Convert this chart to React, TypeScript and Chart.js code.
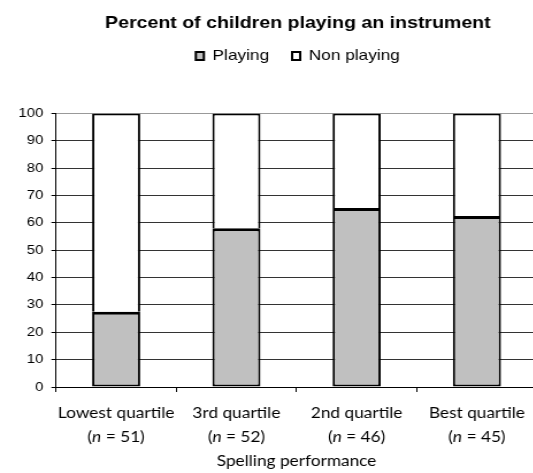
import React, { useEffect, useRef } from 'react';
import { Chart, registerables } from 'chart.js';

Chart.register(...registerables);

const categories = ['Lowest quartile', '3rd quartile', '2nd quartile', 'Best quartile'];
const sampleSizes = [51, 52, 46, 45];
const playing = [27.5, 58, 65.4, 62.5];
const nonPlaying = [72.5, 42, 34.6, 37.5];
const seriesNames = ['Playing', 'Non playing'];
const titleText = 'Percent of children playing an instrument';
const xAxisTitle = 'Spelling performance';

const STRETCH = 1.15;
const CANVAS_W = 518;
const CANVAS_H = 473;
const LABEL_FONT = 'Lato';
const ARIAL = "'Liberation Sans', Arial, sans-serif";

const xLabelPlugin = {
  id: 'xLabels',
  afterDraw(chart: any) {
    const ctx = chart.ctx as CanvasRenderingContext2D;
    const xs = chart.scales.x;
    const size = 15;
    const normal = `${size}px ${LABEL_FONT}`;
    const italic = `italic ${size}px ${LABEL_FONT}`;
    ctx.save();
    ctx.fillStyle = '#000';
    ctx.textBaseline = 'middle';
    categories.forEach((cat, i) => {
      const cx = xs.getPixelForValue(i);
      ctx.font = normal;
      ctx.textAlign = 'center';
      ctx.fillText(cat, cx, xs.top + 26);
      const parts = [
        { t: '(', f: normal },
        { t: 'n', f: italic },
        { t: ` = ${sampleSizes[i]})`, f: normal },
      ];
      let total = 0;
      parts.forEach((p) => {
        ctx.font = p.f;
        total += ctx.measureText(p.t).width;
      });
      let x = cx - total / 2;
      ctx.textAlign = 'left';
      parts.forEach((p) => {
        ctx.font = p.f;
        ctx.fillText(p.t, x, xs.top + 50);
        x += ctx.measureText(p.t).width;
      });
    });
    ctx.restore();
  },
};

export default function App() {
  const ref = useRef<HTMLCanvasElement>(null);

  useEffect(() => {
    if (!ref.current) return;
    const chart = new Chart(ref.current, {
      type: 'bar',
      data: {
        labels: categories,
        datasets: [
          {
            label: seriesNames[0],
            data: playing,
            backgroundColor: '#c0c0c0',
            borderColor: '#000',
            borderWidth: { top: 3, left: 2, right: 2, bottom: 2 },
            borderSkipped: false,
            barPercentage: 0.4,
            categoryPercentage: 1,
          },
          {
            label: seriesNames[1],
            data: nonPlaying,
            backgroundColor: '#ffffff',
            borderColor: '#000',
            borderWidth: 2,
            borderSkipped: 'start',
            barPercentage: 0.4,
            categoryPercentage: 1,
          },
        ],
      },
      options: {
        responsive: false,
        animation: false,
        devicePixelRatio: 1,
        layout: { padding: 0 },
        plugins: {
          tooltip: { enabled: false },
          title: {
            display: true,
            text: titleText,
            color: '#000',
            font: { family: ARIAL, size: 17, weight: 'bold' },
            padding: { top: 13, bottom: -5 },
          },
          legend: {
            display: true,
            position: 'top',
            labels: {
              boxWidth: 7,
              boxHeight: 8,
              padding: 20,
              color: '#000',
              font: { family: ARIAL, size: 15 },
              generateLabels: (chart: any) =>
                Chart.defaults.plugins.legend.labels
                  .generateLabels(chart)
                  .map((l: any) => ({ ...l, lineWidth: 2 })),
            },
          },
        },
        scales: {
          x: {
            type: 'category',
            position: 'bottom',
            stacked: true,
            offset: true,
            grid: {
              display: true,
              offset: true,
              drawOnChartArea: false,
              drawTicks: true,
              tickLength: 5,
              color: '#000',
            },
            border: { display: true, color: '#000', width: 1 },
            ticks: { display: false },
            title: {
              display: true,
              text: xAxisTitle,
              color: '#000',
              font: { family: LABEL_FONT, size: 15 },
              padding: { top: 0, bottom: 3 },
            },
            afterFit(s: any) {
              s.height = 86;
            },
          },
          xTop: {
            type: 'category',
            position: 'top',
            display: true,
            grid: { display: false },
            border: { display: false },
            ticks: { display: false },
            afterFit(s: any) {
              s.height = 40;
            },
          },
          y: {
            type: 'linear',
            position: 'left',
            stacked: true,
            min: 0,
            max: 100,
            ticks: {
              stepSize: 10,
              color: '#000',
              padding: 7,
              font: { family: ARIAL, size: 13 },
            },
            grid: {
              color: (c: any) => (c.tick && c.tick.value === 100 ? '#999' : '#333'),
              tickColor: '#000',
              tickLength: 4,
              lineWidth: 1,
            },
            border: { display: true, color: '#000', width: 1 },
            afterFit(s: any) {
              s.width = 48.7;
            },
          },
          yRight: {
            type: 'linear',
            position: 'right',
            display: true,
            grid: { display: false },
            border: { display: false },
            ticks: { display: false },
            afterFit(s: any) {
              s.width = 51;
            },
          },
        },
      } as any,
      plugins: [xLabelPlugin],
    });
    return () => chart.destroy();
  }, []);

  return (
    <div
      style={{
        position: 'fixed',
        left: 0,
        top: 0,
        width: 533,
        height: 473,
        overflow: 'hidden',
        background: '#fff',
      }}
    >
      <div
        style={{
          transform: `scaleX(${STRETCH})`,
          transformOrigin: '0 0',
          width: CANVAS_W,
          height: CANVAS_H,
        }}
      >
        <canvas ref={ref} width={CANVAS_W} height={CANVAS_H} style={{ display: 'block' }} />
      </div>
    </div>
  );
}
